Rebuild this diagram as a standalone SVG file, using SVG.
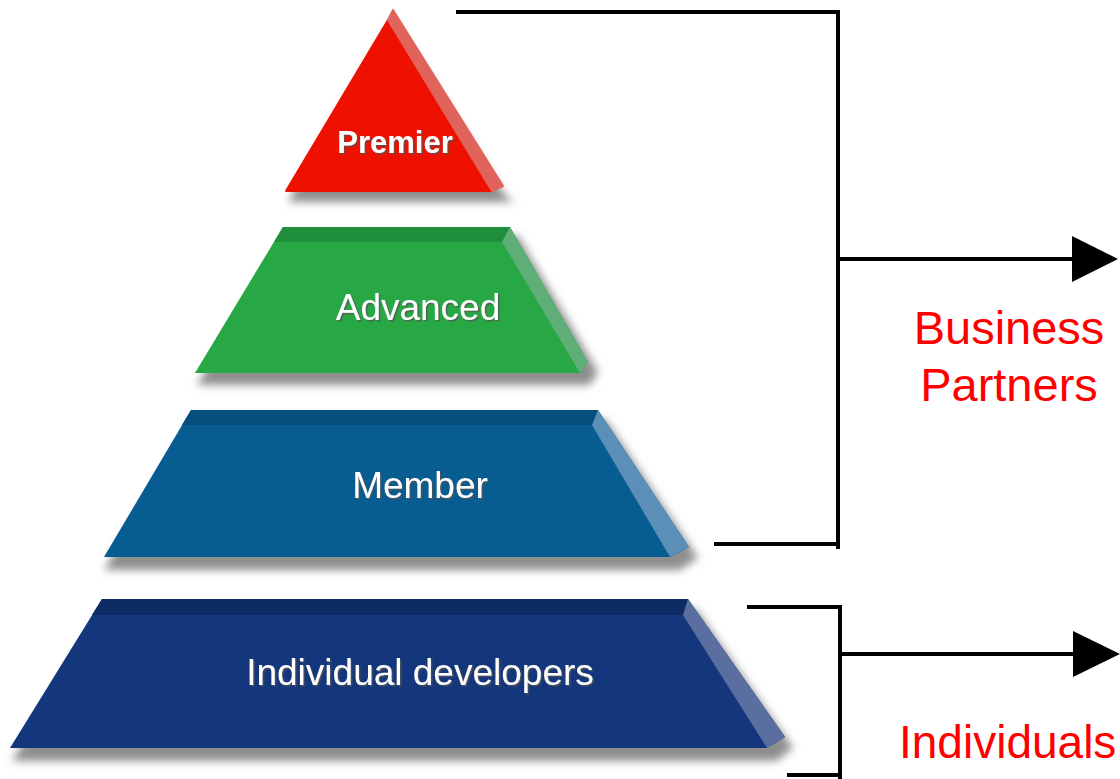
<svg xmlns="http://www.w3.org/2000/svg" width="1120" height="779" viewBox="0 0 1120 779">
<defs>
<filter id="blur" x="-10%" y="-20%" width="120%" height="140%"><feGaussianBlur stdDeviation="4"/></filter>
<filter id="tshadow" x="-5%" y="-20%" width="110%" height="140%"><feDropShadow dx="1.5" dy="1.5" stdDeviation="0.6" flood-color="#555" flood-opacity="0.8"/></filter>
<style>
.shadow{fill:#8e8e8e;filter:url(#blur)}
.tier-label{font-family:"Liberation Sans",Arial,sans-serif;font-size:37px;fill:#fff;text-anchor:middle;filter:url(#tshadow)}
.red-label{font-family:"Liberation Sans",Arial,sans-serif;font-size:47px;fill:#ff0000}
.bracket{fill:none;stroke:#000;stroke-width:4}
.head{fill:#000}
</style>
</defs>
<rect width="1120" height="779" fill="#fff"/>

<g id="premier">
<polygon class="shadow" points="393,22 288,202 514,202 504,194"/>
<polygon fill="#ee1100" stroke="#ee1100" stroke-width="2" stroke-linejoin="round" points="388,20 286,191 492,191"/>
<polygon fill="#e0645c" stroke="#e0645c" stroke-width="2" stroke-linejoin="round" points="388,20 393,10 503,186 492,191"/>
<text class="tier-label" x="395" y="153" style="font-weight:bold;font-size:31px">Premier</text>
</g>

<g id="advanced">
<polygon class="shadow" points="288,236 518,236 598,372 590,385 197,385"/>
<polygon fill="#27a844" points="283,227 510,227 588,362 580,373 195,373"/>
<polygon fill="#1f8f3b" points="283,227 510,227 502,242 274,242"/>
<polygon fill="#5fae78" points="510,227 588,362 580,373 502,242"/>
<text class="tier-label" x="418" y="320">Advanced</text>
</g>

<g id="member">
<polygon class="shadow" points="196,420 606,420 698,558 680,570 104,570"/>
<polygon fill="#075c92" points="191,410 598,410 689,547 670,557 104,557"/>
<polygon fill="#064e7c" points="191,410 598,410 592,425 182,425"/>
<polygon fill="#5b8fb8" points="598,410 689,547 670,557 592,425"/>
<text class="tier-label" x="420" y="498">Member</text>
</g>

<g id="individual">
<polygon class="shadow" points="106,609 696,609 793,748 776,761 12,761"/>
<polygon fill="#13367c" points="102,599 688,599 785,737 767,748 10,748"/>
<polygon fill="#0f2b63" points="102,599 688,599 683,615 92,615"/>
<polygon fill="#5a6fa0" points="688,599 785,737 767,748 683,615"/>
<text class="tier-label" x="420" y="685">Individual developers</text>
</g>

<g id="connectors">
<path class="bracket" d="M456,12 H840 M838,10 V549 M714,544 H838"/>
<path class="bracket" d="M838,259 H1076"/>
<polygon class="head" points="1072,236 1118,259 1072,282"/>
<path class="bracket" d="M747,607 H842 M840,605 V779 M787,775 H840"/>
<path class="bracket" d="M840,654 H1076"/>
<polygon class="head" points="1073,631 1120,654 1073,677"/>
</g>

<g id="business-partners">
<text class="red-label" x="1009" y="344" text-anchor="middle">Business</text>
<text class="red-label" x="1009" y="401" text-anchor="middle">Partners</text>
</g>

<g id="individuals">
<text class="red-label" x="899" y="758" style="font-size:46px">Individuals</text>
</g>
</svg>
